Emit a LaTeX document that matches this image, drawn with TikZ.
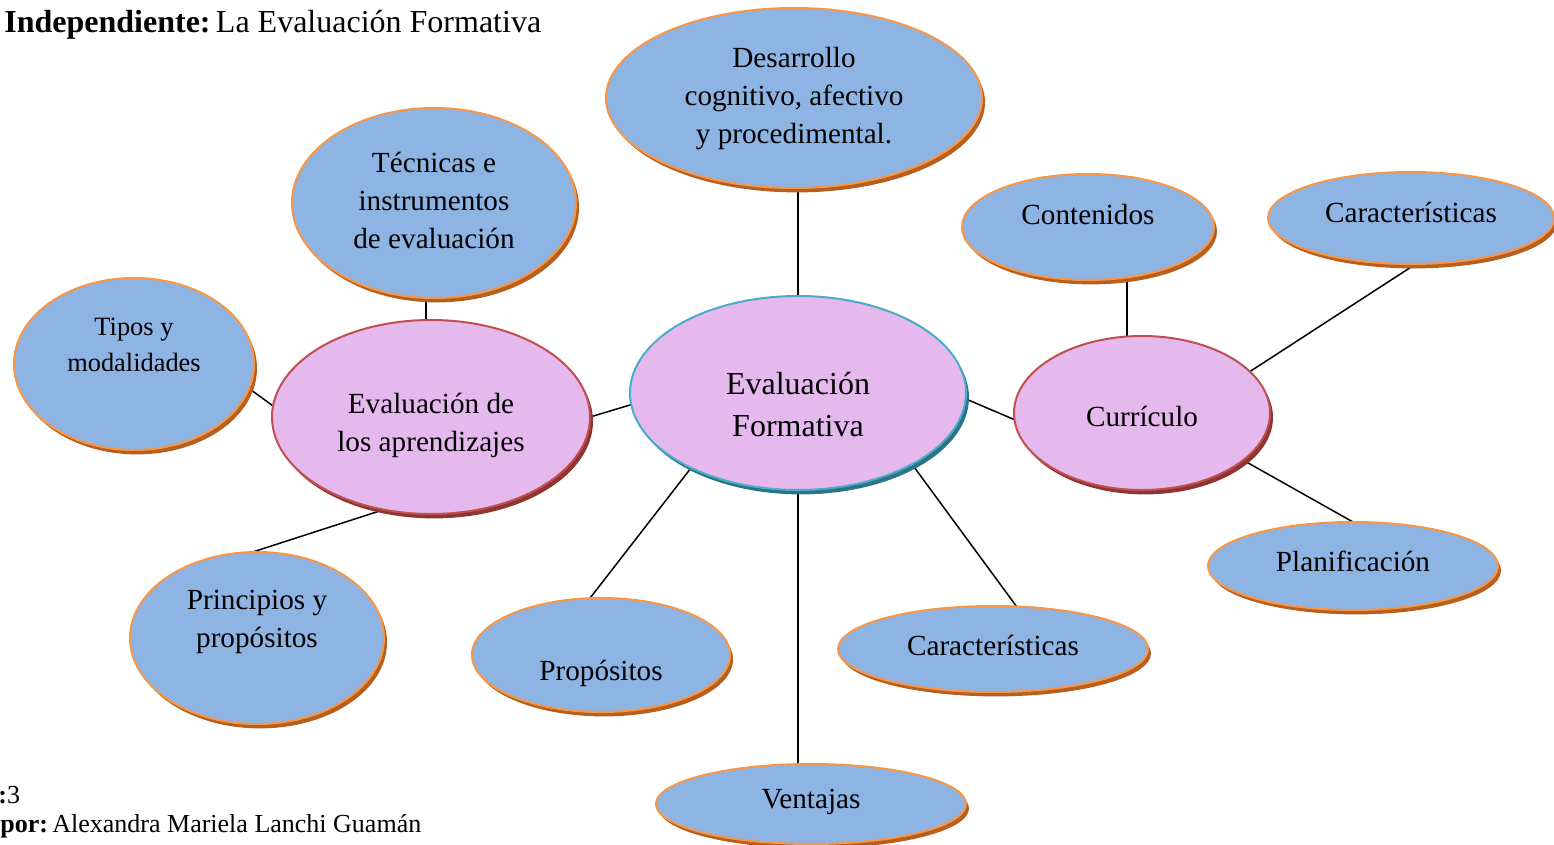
\documentclass[tikz,border=0pt]{standalone}
\usepackage{fontspec}
\setmainfont{Liberation Serif}
\usetikzlibrary{shapes.geometric,shadows}
\pgfdeclarelayer{bg}
\pgfsetlayers{bg,main}
\definecolor{bluefill}{HTML}{8EB4E3}
\definecolor{orangeline}{HTML}{F79646}
\definecolor{orangedark}{HTML}{B65F1E}
\definecolor{pinkfill}{HTML}{E5B9EE}
\definecolor{redline}{HTML}{C0504D}
\definecolor{reddark}{HTML}{8E3432}
\definecolor{tealline}{HTML}{4BACC6}
\definecolor{tealdark}{HTML}{2B7386}
\tikzset{
  bubble/.style={ellipse, inner sep=0pt, outer sep=0pt, line width=1pt},
  bluebub/.style={bubble, fill=bluefill, draw=orangeline,
    drop shadow={shadow xshift=1.5pt, shadow yshift=-2.2pt, fill=orangedark, opacity=1}},
  redbub/.style={bubble, fill=pinkfill, draw=redline,
    drop shadow={shadow xshift=1.5pt, shadow yshift=-2.2pt, fill=reddark, opacity=1}},
  tealbub/.style={bubble, fill=pinkfill, draw=tealline,
    drop shadow={shadow xshift=1.5pt, shadow yshift=-2.2pt, fill=tealdark, opacity=1}},
  txt/.style={font=\fontsize{14.6}{19}\selectfont, align=center, inner sep=0pt},
  bigtxt/.style={font=\fontsize{16}{21}\selectfont, align=center, inner sep=0pt},
  smalltxt/.style={font=\fontsize{13.2}{18}\selectfont, align=center, inner sep=0pt},
  link/.style={line width=0.75pt, black},
}
\begin{document}
\begin{tikzpicture}[x=0.5pt,y=-0.5pt]
\clip (0,0) rectangle (1554,845);

% central and second-level
\node[tealbub, minimum width=168pt, minimum height=97pt,
  label={[bigtxt, yshift=-6pt]center:{Evaluación\\Formativa}}] (central) at (798,393) {};
\node[redbub, minimum width=159pt, minimum height=97pt,
  label={[txt, yshift=-4pt]center:{Evaluación de\\los aprendizajes}}] (evalap) at (431,417) {};
\node[redbub, minimum width=128pt, minimum height=77pt,
  label={[txt, yshift=-1.5pt]center:{Currículo}}] (curriculo) at (1142,413) {};

% leaves
\node[bluebub, minimum width=188pt, minimum height=90pt,
  label={[txt, yshift=-0.5pt]center:{Desarrollo\\cognitivo, afectivo\\y procedimental.}}] (desarrollo) at (794,98) {};
\node[bluebub, minimum width=142pt, minimum height=95pt,
  label={[txt, yshift=1.5pt]center:{Técnicas e\\instrumentos\\de evaluación}}] (tecnicas) at (434,203) {};
\node[bluebub, minimum width=120pt, minimum height=86pt,
  label={[smalltxt, yshift=9.5pt]center:{Tipos y\\modalidades}}] (tipos) at (134,364) {};
\node[bluebub, minimum width=127pt, minimum height=86pt,
  label={[txt, yshift=8pt]center:{Principios y\\propósitos}}] (principios) at (257,638) {};
\node[bluebub, minimum width=129pt, minimum height=57pt,
  label={[txt, yshift=-9pt]center:{Propósitos}}] (propositos) at (601,655) {};
\node[bluebub, minimum width=155pt, minimum height=40pt,
  label={[txt, yshift=1pt]center:{Ventajas}}] (ventajas) at (811,804) {};
\node[bluebub, minimum width=155pt, minimum height=43pt,
  label={[txt, yshift=2pt]center:{Características}}] (caracb) at (993,649) {};
\node[bluebub, minimum width=126pt, minimum height=53pt,
  label={[txt, yshift=6pt]center:{Contenidos}}] (contenidos) at (1088,227) {};
\node[bluebub, minimum width=143pt, minimum height=46pt,
  label={[txt, yshift=3pt]center:{Características}}] (caract) at (1411,218) {};
\node[bluebub, minimum width=145pt, minimum height=44pt,
  label={[txt, yshift=2.5pt]center:{Planificación}}] (planif) at (1353,566) {};

% connectors
\begin{pgfonlayer}{bg}
\draw[link] (central.north) -- (central.north |- desarrollo.south);
\draw[link] (evalap.93) -- (evalap.93 |- tecnicas.south);
\draw[link] (tipos.-12.6) -- (evalap.176);
\draw[link] (evalap.0) -- (central.184);
\draw[link] (evalap.-117) -- (principios.93);
\draw[link] (central.-145.4) -- (propositos.101);
\draw[link] (central.south) -- (central.south |- ventajas.north);
\draw[link] (central.-32.1) -- (caracb.61.3);
\draw[link] (central.-2.4) -- (curriculo.183.2);
\draw[link] (curriculo.101.2) -- (curriculo.101.2 |- contenidos.south);
\draw[link] (curriculo.21.8) -- (caract.-84);
\draw[link] (curriculo.-25.9) -- (planif.north);
\end{pgfonlayer}

% texts
\node[anchor=west, inner sep=0pt, font=\fontsize{16}{19}\selectfont] (title) at (4,25)
  {\textbf{Independiente:}\,La Evaluación Formativa};
\node[anchor=west, inner sep=0pt, font=\fontsize{13}{16}\selectfont] (fig) at (-2,795)
  {\textbf{:}3};
\node[anchor=west, inner sep=0pt, font=\fontsize{13}{16}\selectfont] (author) at (0,826)
  {\textbf{por:}\,Alexandra Mariela Lanchi Guamán};
\end{tikzpicture}
\end{document}
